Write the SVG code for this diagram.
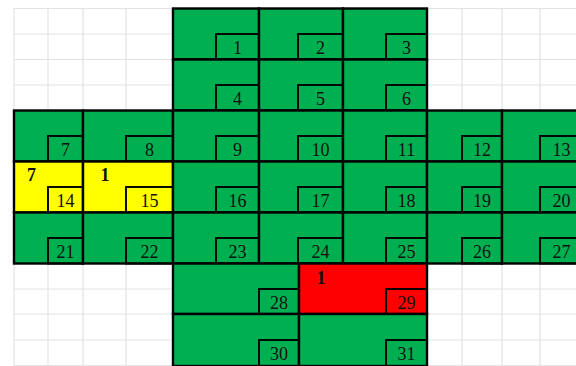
<svg xmlns="http://www.w3.org/2000/svg" width="576" height="366" viewBox="0 0 576 366">
<style>
.g{stroke:#e3e3e3;stroke-width:1.2;fill:none}
.c{stroke:#000;stroke-width:2.4}
.gr{fill:#00b050}.ye{fill:#ffff00}.rd{fill:#ff0000}
.in{fill:none;stroke:#000;stroke-width:1.9}
text{font-family:"Liberation Serif","Times New Roman",serif;font-size:18px;fill:#111;text-anchor:middle}
.b{font-weight:bold}
</style>
<rect width="576" height="366" fill="#fff"/>
<g id="grid">
<path class="g" d="M13.5 8.5H576M13.5 34H576M13.5 59.5H576M13.5 85H576M13.5 110.5H576M13.5 263.5H576M13.5 289H576M13.5 314H576M13.5 340H576M13.5 365.5H576M14 8V366M48 8V366M83 8V366M126 8V366M173 8V366M427 8V366M462 8V366M502 8V366M540 8V366"/>
</g>
<g id="connectors"/>
<g id="n1"><rect class="c gr" x="173" y="8.5" width="86" height="51"/><rect class="in" x="216" y="34" width="43" height="25.5"/><text x="237.5" y="53.5">1</text></g>
<g id="n2"><rect class="c gr" x="259" y="8.5" width="84" height="51"/><rect class="in" x="298" y="34" width="45" height="25.5"/><text x="320.5" y="53.5">2</text></g>
<g id="n3"><rect class="c gr" x="343" y="8.5" width="84" height="51"/><rect class="in" x="386" y="34" width="41" height="25.5"/><text x="406.5" y="53.5">3</text></g>
<g id="n4"><rect class="c gr" x="173" y="59.5" width="86" height="51"/><rect class="in" x="216" y="85" width="43" height="25.5"/><text x="237.5" y="104.5">4</text></g>
<g id="n5"><rect class="c gr" x="259" y="59.5" width="84" height="51"/><rect class="in" x="298" y="85" width="45" height="25.5"/><text x="320.5" y="104.5">5</text></g>
<g id="n6"><rect class="c gr" x="343" y="59.5" width="84" height="51"/><rect class="in" x="386" y="85" width="41" height="25.5"/><text x="406.5" y="104.5">6</text></g>
<g id="n7"><rect class="c gr" x="14" y="110.5" width="69" height="51"/><rect class="in" x="48" y="136" width="35" height="25.5"/><text x="65.5" y="155.5">7</text></g>
<g id="n8"><rect class="c gr" x="83" y="110.5" width="90" height="51"/><rect class="in" x="126" y="136" width="47" height="25.5"/><text x="149.5" y="155.5">8</text></g>
<g id="n9"><rect class="c gr" x="173" y="110.5" width="86" height="51"/><rect class="in" x="216" y="136" width="43" height="25.5"/><text x="237.5" y="155.5">9</text></g>
<g id="n10"><rect class="c gr" x="259" y="110.5" width="84" height="51"/><rect class="in" x="298" y="136" width="45" height="25.5"/><text x="320.5" y="155.5">10</text></g>
<g id="n11"><rect class="c gr" x="343" y="110.5" width="84" height="51"/><rect class="in" x="386" y="136" width="41" height="25.5"/><text x="406.5" y="155.5">11</text></g>
<g id="n12"><rect class="c gr" x="427" y="110.5" width="75" height="51"/><rect class="in" x="462" y="136" width="40" height="25.5"/><text x="482" y="155.5">12</text></g>
<g id="n13"><rect class="c gr" x="502" y="110.5" width="90" height="51"/><rect class="in" x="540" y="136" width="43" height="25.5"/><text x="561.5" y="155.5">13</text></g>
<g id="n14"><rect class="c ye" x="14" y="161.5" width="69" height="51"/><rect class="in" x="48" y="187" width="35" height="25.5"/><text x="65.5" y="207">14</text><text class="b" x="31.5" y="181">7</text></g>
<g id="n15"><rect class="c ye" x="83" y="161.5" width="90" height="51"/><rect class="in" x="126" y="187" width="47" height="25.5"/><text x="149.5" y="207">15</text><text class="b" x="105" y="181">1</text></g>
<g id="n16"><rect class="c gr" x="173" y="161.5" width="86" height="51"/><rect class="in" x="216" y="187" width="43" height="25.5"/><text x="237.5" y="207">16</text></g>
<g id="n17"><rect class="c gr" x="259" y="161.5" width="84" height="51"/><rect class="in" x="298" y="187" width="45" height="25.5"/><text x="320.5" y="207">17</text></g>
<g id="n18"><rect class="c gr" x="343" y="161.5" width="84" height="51"/><rect class="in" x="386" y="187" width="41" height="25.5"/><text x="406.5" y="207">18</text></g>
<g id="n19"><rect class="c gr" x="427" y="161.5" width="75" height="51"/><rect class="in" x="462" y="187" width="40" height="25.5"/><text x="482" y="207">19</text></g>
<g id="n20"><rect class="c gr" x="502" y="161.5" width="90" height="51"/><rect class="in" x="540" y="187" width="43" height="25.5"/><text x="561.5" y="207">20</text></g>
<g id="n21"><rect class="c gr" x="14" y="212.5" width="69" height="51"/><rect class="in" x="48" y="238" width="35" height="25.5"/><text x="65.5" y="258">21</text></g>
<g id="n22"><rect class="c gr" x="83" y="212.5" width="90" height="51"/><rect class="in" x="126" y="238" width="47" height="25.5"/><text x="149.5" y="258">22</text></g>
<g id="n23"><rect class="c gr" x="173" y="212.5" width="86" height="51"/><rect class="in" x="216" y="238" width="43" height="25.5"/><text x="237.5" y="258">23</text></g>
<g id="n24"><rect class="c gr" x="259" y="212.5" width="84" height="51"/><rect class="in" x="298" y="238" width="45" height="25.5"/><text x="320.5" y="258">24</text></g>
<g id="n25"><rect class="c gr" x="343" y="212.5" width="84" height="51"/><rect class="in" x="386" y="238" width="41" height="25.5"/><text x="406.5" y="258">25</text></g>
<g id="n26"><rect class="c gr" x="427" y="212.5" width="75" height="51"/><rect class="in" x="462" y="238" width="40" height="25.5"/><text x="482" y="258">26</text></g>
<g id="n27"><rect class="c gr" x="502" y="212.5" width="90" height="51"/><rect class="in" x="540" y="238" width="43" height="25.5"/><text x="561.5" y="258">27</text></g>
<g id="n28"><rect class="c gr" x="173" y="263.5" width="126" height="50.5"/><rect class="in" x="259" y="289" width="40" height="25"/><text x="279" y="308.5">28</text></g>
<g id="n29"><rect class="c rd" x="299" y="263.5" width="128" height="50.5"/><rect class="in" x="386" y="289" width="41" height="25"/><text x="406.5" y="308.5">29</text><text class="b" x="321" y="284">1</text></g>
<g id="n30"><rect class="c gr" x="173" y="314" width="126" height="52"/><rect class="in" x="259" y="340" width="40" height="26"/><text x="279" y="359.5">30</text></g>
<g id="n31"><rect class="c gr" x="299" y="314" width="128" height="52"/><rect class="in" x="386" y="340" width="41" height="26"/><text x="406.5" y="359.5">31</text></g>
</svg>
